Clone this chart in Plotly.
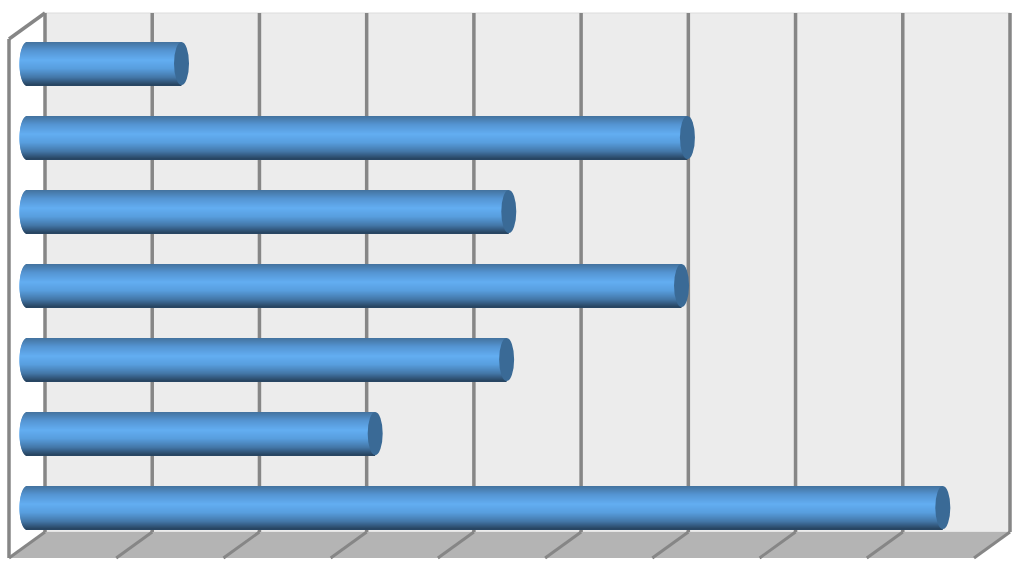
import plotly.graph_objects as go

# bars from top to bottom, value in grid units
rows = [0, 1, 2, 3, 4, 5, 6]
values = [1.44, 6.155, 4.49, 6.10, 4.47, 3.245, 8.535]
grid_ticks = [0, 1, 2, 3, 4, 5, 6, 7, 8, 9]

W, H = 1025, 568
# pixels per unit and where the value 0 / first row sit
PX_X, ZERO_X = 107.3, 27.0
PX_Y, ROW0_Y = 74.0, 63.5
WALL_L, WALL_R, WALL_T, WALL_B = 45, 1010, 13, 532
DX, DY = 36, 26  # depth of the 3d box in px
BAR_H = 43
CAP_RX = 7.5
GREY = "#868686"

stops = [
    (0.00, (0x44, 0x73, 0x9e)),
    (0.20, (0x55, 0x95, 0xd3)),
    (0.42, (0x63, 0xae, 0xf2)),
    (0.62, (0x58, 0x9e, 0xde)),
    (0.82, (0x44, 0x78, 0xa9)),
    (1.00, (0x27, 0x43, 0x5f)),
]


def shade(t):
    for (t0, c0), (t1, c1) in zip(stops, stops[1:]):
        if t <= t1:
            f = (t - t0) / (t1 - t0)
            return "rgb(%d,%d,%d)" % tuple(a + (b - a) * f for a, b in zip(c0, c1))
    return "rgb(%d,%d,%d)" % stops[-1][1]


def fx(px):
    return px / W


def fy(px):
    return 1 - px / H


def paper_line(x0, y0, x1, y1, width=3.5):
    return dict(type="line", xref="paper", yref="paper", x0=fx(x0), y0=fy(y0), x1=fx(x1), y1=fy(y1),
                line=dict(color=GREY, width=width), layer="below")


fig = go.Figure()

# cylinder body: thin stacked bars with a shaded colour, the left end curves in
for i in range(BAR_H):
    t = (i + 0.5) / BAR_H
    bulge = CAP_RX * (1 - (2 * t - 1) ** 2) ** 0.5 / PX_X
    fig.add_trace(go.Bar(
        y=rows,
        x=[v + bulge for v in values],
        base=-bulge,
        orientation="h",
        offset=(i - BAR_H / 2) / PX_Y,
        width=2 / PX_Y,
        marker=dict(color=shade(t), line=dict(width=0)),
        showlegend=False,
        hoverinfo="skip",
    ))

shapes = [
    # back wall
    dict(type="rect", xref="paper", yref="paper", x0=fx(WALL_L), x1=fx(WALL_R), y0=fy(WALL_B), y1=fy(WALL_T),
         fillcolor="#ececec", line=dict(color="#dcdcdc", width=1), layer="below"),
    # floor
    dict(type="path", xref="paper", yref="paper",
         path="M %f %f L %f %f L %f %f L %f %f Z" % (
             fx(WALL_L), fy(WALL_B), fx(WALL_R), fy(WALL_B),
             fx(WALL_R - DX), fy(WALL_B + DY), fx(WALL_L - DX), fy(WALL_B + DY)),
         fillcolor="#b4b4b4", line=dict(width=0), layer="below"),
    # left side of the box
    paper_line(WALL_L - DX, WALL_B + DY, WALL_L - DX, WALL_T + DY),
    paper_line(WALL_L - DX, WALL_T + DY, WALL_L, WALL_T),
]

# grid lines on the wall and their ticks across the floor
for k in grid_ticks:
    gx = WALL_L + k * (WALL_R - WALL_L) / 9
    shapes.append(paper_line(gx, WALL_T, gx, WALL_B))
    shapes.append(paper_line(gx, WALL_B, gx - DX, WALL_B + DY, 3))

# end caps
for r, v in zip(rows, values):
    shapes.append(dict(type="circle", xref="x", yref="y",
                       x0=v - CAP_RX / PX_X, x1=v + CAP_RX / PX_X,
                       y0=r - BAR_H / 2 / PX_Y, y1=r + BAR_H / 2 / PX_Y,
                       fillcolor="#3a6a96", line=dict(width=0), layer="above"))

fig.update_layout(
    width=W,
    height=H,
    margin=dict(l=0, r=0, t=0, b=0),
    paper_bgcolor="white",
    plot_bgcolor="rgba(0,0,0,0)",
    barmode="overlay",
    showlegend=False,
    shapes=shapes,
    xaxis=dict(range=[-ZERO_X / PX_X, (W - ZERO_X) / PX_X], visible=False),
    yaxis=dict(range=[(H - ROW0_Y) / PX_Y, -ROW0_Y / PX_Y], visible=False),
)

fig.write_html("out.html", config={"displayModeBar": False},
               post_script="document.body.style.margin='0';document.body.style.overflow='hidden';")
